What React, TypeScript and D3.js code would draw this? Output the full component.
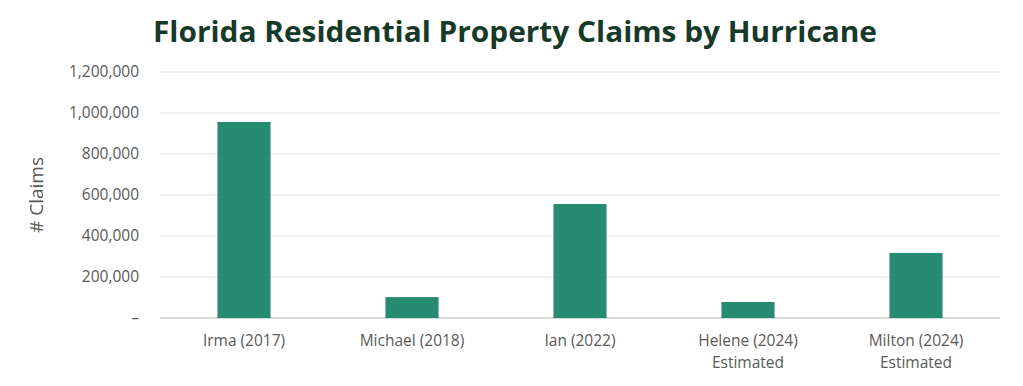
import * as d3 from 'd3'
import { useEffect, useRef } from 'react'

const categories = ['Irma (2017)', 'Michael (2018)', 'Ian (2022)', 'Helene (2024)\nEstimated', 'Milton (2024)\nEstimated']
const claims = [956000, 102000, 556000, 78000, 317000]
const yTicks = [0, 200000, 400000, 600000, 800000, 1000000, 1200000]

export default function App() {
  const svgRef = useRef<SVGSVGElement>(null)

  useEffect(() => {
    document.body.style.margin = '0'
    if (!svgRef.current) return
    const svg = d3.select(svgRef.current)
    svg.selectAll('*').remove()

    const W = 1023
    const H = 386
    const margin = { top: 72, right: 23, bottom: 68, left: 160 }
    const innerW = W - margin.left - margin.right
    const innerH = H - margin.top - margin.bottom
    const labelFont = '"Open Sans", Lato, sans-serif'

    const x = d3.scaleBand<string>().domain(categories).range([0, innerW]).padding(0)
    const y = d3.scaleLinear().domain([0, 1200000]).range([innerH, 0])
    const barW = x.bandwidth() * 0.316

    svg
      .append('text')
      .attr('x', 515)
      .attr('y', 42)
      .attr('text-anchor', 'middle')
      .attr('fill', '#17392a')
      .attr('font-family', '"Open Sans", "Noto Sans", sans-serif')
      .attr('font-weight', 700)
      .attr('font-size', 28)
      .attr('textLength', 724)
      .attr('lengthAdjust', 'spacingAndGlyphs')
      .text('Florida Residential Property Claims by Hurricane')

    const g = svg.append('g').attr('transform', `translate(${margin.left},${margin.top})`)

    // gridlines
    g.selectAll('line.grid')
      .data(yTicks)
      .join('line')
      .attr('x1', 0)
      .attr('x2', innerW)
      .attr('y1', (d) => y(d))
      .attr('y2', (d) => y(d))
      .attr('stroke', (d) => (d === 0 ? '#d9d9d9' : '#e0e0e0'))
      .attr('stroke-width', (d) => (d === 0 ? 2 : 1))

    // y tick labels
    const fmt = d3.format(',')
    g.selectAll('text.ytick')
      .data(yTicks)
      .join('text')
      .attr('x', -21)
      .attr('y', (d) => y(d))
      .attr('dy', '0.35em')
      .attr('text-anchor', 'end')
      .attr('fill', '#595959')
      .attr('font-family', labelFont)
      .attr('font-size', 15.5)
      .text((d) => (d === 0 ? '–' : fmt(d)))

    // bars
    g.selectAll('rect.bar')
      .data(categories)
      .join('rect')
      .attr('x', (d) => (x(d) ?? 0) + x.bandwidth() / 2 - barW / 2)
      .attr('y', (_, i) => y(claims[i]))
      .attr('width', barW)
      .attr('height', (_, i) => innerH - y(claims[i]))
      .attr('fill', '#278c6f')

    // x labels
    g.selectAll('text.xlab')
      .data(categories)
      .join('text')
      .attr('x', (d) => (x(d) ?? 0) + x.bandwidth() / 2)
      .attr('y', innerH + 28)
      .attr('text-anchor', 'middle')
      .attr('fill', '#595959')
      .attr('font-family', labelFont)
      .attr('font-size', 15.5)
      .each(function (d) {
        const t = d3.select(this)
        d.split('\n').forEach((line, i) => {
          t.append('tspan')
            .attr('x', (x(d) ?? 0) + x.bandwidth() / 2)
            .attr('dy', i === 0 ? 0 : 22)
            .text(line)
        })
      })

    // y axis title
    svg
      .append('text')
      .attr('transform', `translate(43,${margin.top + innerH / 2}) rotate(-90)`)
      .attr('text-anchor', 'middle')
      .attr('fill', '#595959')
      .attr('font-family', labelFont)
      .attr('font-size', 19)
      .text('# Claims')
  }, [])

  return <svg ref={svgRef} width={1023} height={386} style={{ display: 'block', background: '#fff' }} />
}
